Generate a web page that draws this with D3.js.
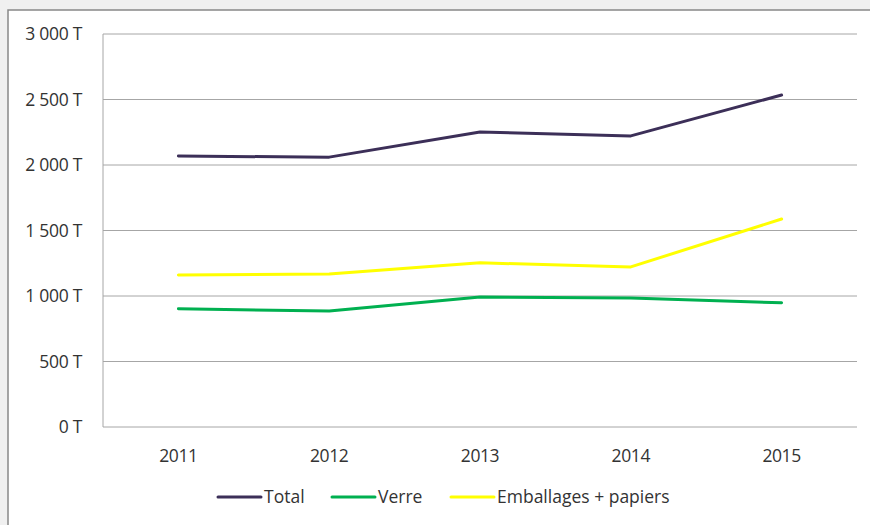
<html>
<head>
<script src="https://cdn.jsdelivr.net/npm/d3@7/dist/d3.min.js"></script>
<style>
  body { margin: 0; background: #f0f0f0; }
  text { font-family: "Open Sans", sans-serif; }
</style>
</head>
<body>
<div id="chart"></div>
<script>

const years = ["2011", "2012", "2013", "2014", "2015"];
const total = [2068, 2060, 2252, 2222, 2534];
const verre = [902, 886, 992, 985, 948];
const emballages = [1160, 1168, 1253, 1222, 1588];
const yTicks = [0, 500, 1000, 1500, 2000, 2500, 3000];

const series = [
  {name: "Total", values: total, color: "#3c2f58"},
  {name: "Verre", values: verre, color: "#00b050"},
  {name: "Emballages + papiers", values: emballages, color: "#ffff00"}
];

const W = 870, H = 525;
const margin = {top: 34, right: 13, bottom: 98, left: 103};
const width = W - margin.left - margin.right,
      height = H - margin.top - margin.bottom;
const fontSize = "17.5px";

const root = d3.select("#chart").append("svg")
    .attr("width", W)
    .attr("height", H);

// frame
root.append("rect")
    .attr("x", 8).attr("y", 10)
    .attr("width", W).attr("height", H)
    .attr("fill", "#fff")
    .attr("stroke", "#888")
    .attr("stroke-width", 1.5);

const svg = root.append("g")
    .attr("transform", `translate(${margin.left},${margin.top})`);

const x = d3.scalePoint()
    .domain(years)
    .range([0, width])
    .padding(0.5);

const y = d3.scaleLinear()
    .domain([0, 3000])
    .range([height, 0]);

const fmt = d => d3.format(",")(d).replace(/,/g, " ") + " T";

// grid
svg.append("g")
  .selectAll("line")
  .data(yTicks)
  .join("line")
    .attr("x1", 0).attr("x2", width)
    .attr("y1", d => y(d)).attr("y2", d => y(d))
    .attr("stroke", "#a6a6a6")
    .attr("stroke-width", 1);

svg.append("line")
    .attr("x1", 0).attr("x2", 0)
    .attr("y1", 0).attr("y2", height)
    .attr("stroke", "#a6a6a6");

// y labels
svg.append("g")
  .selectAll("text")
  .data(yTicks)
  .join("text")
    .attr("x", -21)
    .attr("y", d => y(d))
    .attr("dy", "0.35em")
    .attr("text-anchor", "end")
    .attr("fill", "#333")
    .style("font-size", fontSize)
    .style("letter-spacing", "-0.3px")
    .text(fmt);

// x labels
svg.append("g")
  .selectAll("text")
  .data(years)
  .join("text")
    .attr("x", d => x(d))
    .attr("y", height + 29)
    .attr("dy", "0.35em")
    .attr("text-anchor", "middle")
    .attr("fill", "#333")
    .style("font-size", fontSize)
    .style("letter-spacing", "-0.4px")
    .text(d => d);

const line = d3.line()
    .x((d, i) => x(years[i]))
    .y(d => y(d));

svg.selectAll(".series")
  .data(series)
  .join("path")
    .attr("class", "series")
    .attr("d", d => line(d.values))
    .attr("fill", "none")
    .attr("stroke", d => d.color)
    .attr("stroke-width", 3)
    .attr("stroke-linecap", "round")
    .attr("stroke-linejoin", "round");

// legend
const legX = [218, 332, 451];
const leg = root.append("g");
series.forEach((s, i) => {
  leg.append("line")
      .attr("x1", legX[i]).attr("x2", legX[i] + 43)
      .attr("y1", 497).attr("y2", 497)
      .attr("stroke", s.color)
      .attr("stroke-width", 3)
      .attr("stroke-linecap", "round");
  leg.append("text")
      .attr("x", legX[i] + 46)
      .attr("y", 497)
      .attr("dy", "0.35em")
      .attr("fill", "#333")
      .style("font-size", fontSize)
      .text(s.name);
});

</script>
</body>
</html>
